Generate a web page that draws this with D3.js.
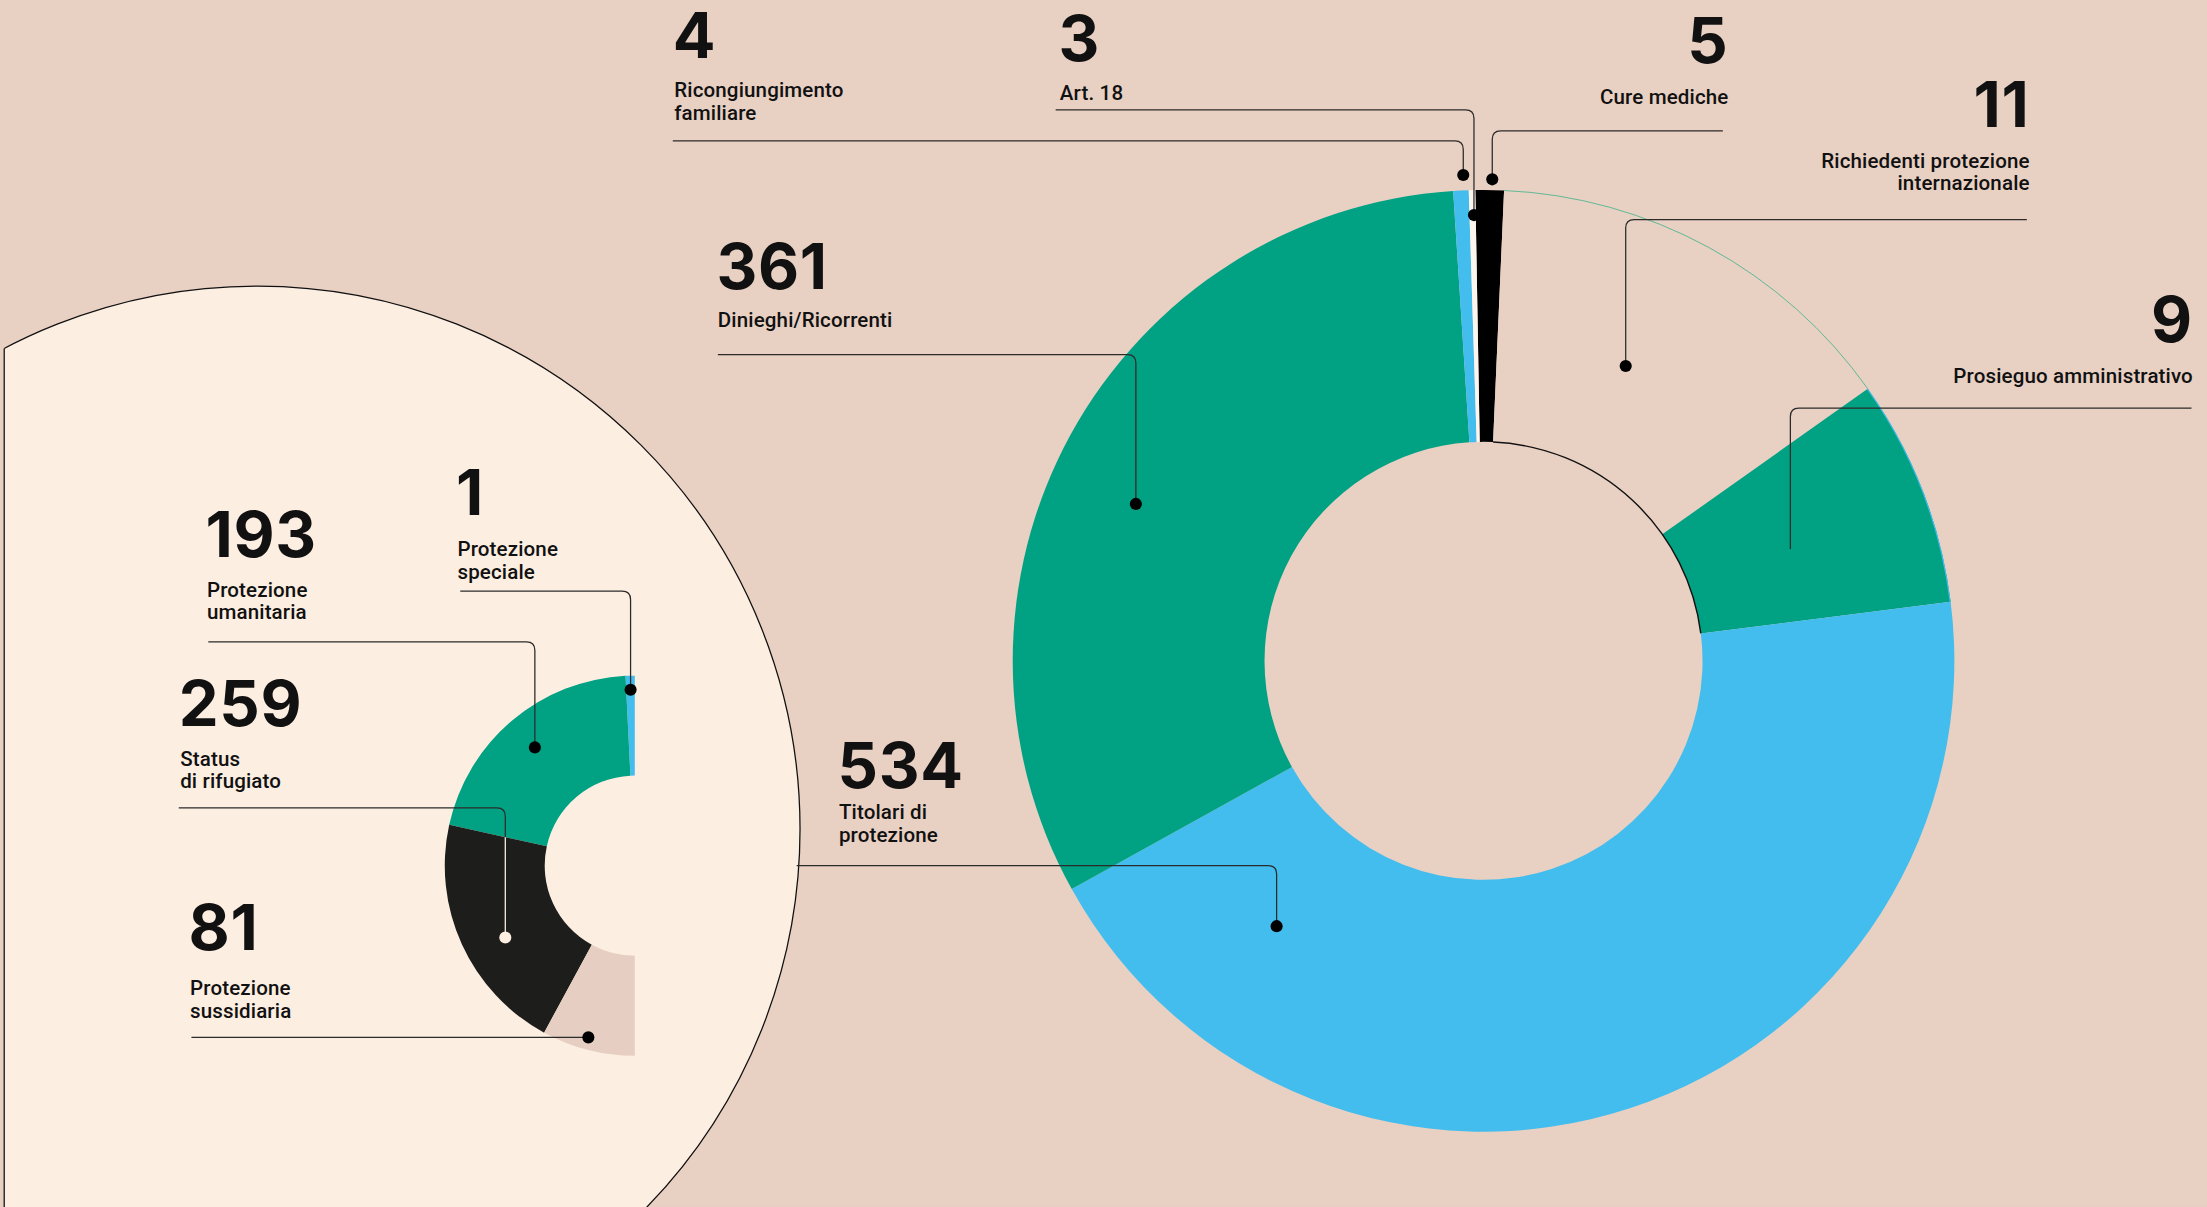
<!DOCTYPE html>
<html>
<head>
<meta charset="utf-8">
<script src="https://cdn.jsdelivr.net/npm/d3@7"></script>
<style>
html, body { margin: 0; padding: 0; background: #e8d0c3; overflow: hidden; }
svg { display: block; }
</style>
</head>
<body>
<div id="chart"></div>
<script>
// main ring: categories, the numbers printed on the chart, and the arc spans (degrees) as drawn
const mainLabels = ["Cure mediche", "Richiedenti protezione\ninternazionale", "Prosieguo amministrativo",
    "Titolari di\nprotezione", "Dinieghi/Ricorrenti", "Ricongiungimento\nfamiliare", "Art. 18"];
const mainValues = [5, 11, 9, 534, 361, 4, 3];
const mainShares = [3.5, 52.2, 28.1, 158.2, 115.3, 1.9, 0.8];
const mainColors = ["#000000", "none", "#00a283", "#42bdee", "#00a283", "#42bdee", "#fdf6ee"];

// detail half ring (Titolari di protezione)
const subLabels = ["Protezione\nspeciale", "Protezione\numanitaria", "Status\ndi rifugiato", "Protezione\nsussidiaria"];
const subValues = [1, 193, 259, 81];
const subShares = [2.8, 74.8, 73.9, 28.5];
const subColors = ["#42bdee", "#00a283", "#1d1d1b", "#e6cfc2"];

const bg = "#e8d0c3", panel = "#fdeee2", ink = "#111111", rule = "#2b2b2b";

const W = 1568, H = 857.5;
const svg = d3.select("#chart").append("svg")
    .attr("width", 2207)
    .attr("height", 1207)
    .attr("viewBox", `0 0 ${W} ${H}`);

svg.append("rect").attr("width", W).attr("height", H).attr("fill", bg);

const deg = d3.scaleLinear().domain([0, 360]).range([0, 2 * Math.PI]);

// big cream panel behind the half ring
const pc = { x: 182.6, y: 589, r: 385.8 }, cutX = 3;
svg.append("circle")
    .attr("cx", pc.x).attr("cy", pc.y).attr("r", pc.r)
    .attr("fill", panel).attr("stroke", "#111").attr("stroke-width", 0.9);
svg.append("rect").attr("x", -20).attr("y", 0).attr("width", cutX + 20).attr("height", H).attr("fill", bg);
svg.append("line")
    .attr("x1", cutX).attr("x2", cutX)
    .attr("y1", pc.y - Math.sqrt(pc.r * pc.r - (cutX - pc.x) ** 2)).attr("y2", H)
    .attr("stroke", "#111").attr("stroke-width", 0.9);

// main donut
const main = { x: 1054, y: 469.5, r0: 155.6, r1: 334.5 };
const mainData = mainLabels.map((d, i) => ({ label: d, value: mainValues[i], share: mainShares[i], color: mainColors[i] }));
const mainPie = d3.pie().sort(null).value(d => d.share).startAngle(deg(-1)).endAngle(deg(359));
const mainArc = d3.arc().innerRadius(main.r0).outerRadius(main.r1);
const mainArcs = mainPie(mainData);

const gMain = svg.append("g").attr("transform", `translate(${main.x},${main.y})`);
gMain.selectAll("path.slice")
    .data(mainArcs)
    .join("path")
    .attr("class", "slice")
    .attr("d", mainArc)
    .attr("fill", d => d.data.color === "none" ? bg : d.data.color);

// thin edges around the empty slice
function ring(r, a0, a1) {
    const p = d3.path();
    p.arc(0, 0, r, a0 - Math.PI / 2, a1 - Math.PI / 2);
    return p.toString();
}
const empty = mainArcs[1], prosieguo = mainArcs[2];
gMain.append("path").attr("d", ring(main.r1, empty.startAngle, empty.endAngle))
    .attr("fill", "none").attr("stroke", "#5fb894").attr("stroke-width", 0.7);
gMain.append("path").attr("d", ring(main.r1 - 0.3, prosieguo.startAngle, prosieguo.endAngle))
    .attr("fill", "none").attr("stroke", "#42bdee").attr("stroke-width", 0.8);
gMain.append("path").attr("d", ring(main.r0, empty.startAngle, prosieguo.endAngle))
    .attr("fill", "none").attr("stroke", "#111").attr("stroke-width", 1);

// half ring
const sub = { x: 451, y: 615, r0: 64, r1: 135 };
const subData = subLabels.map((d, i) => ({ label: d, value: subValues[i], share: subShares[i], color: subColors[i] }));
const subPie = d3.pie().sort(null).value(d => d.share).startAngle(0).endAngle(deg(-180));
const subArc = d3.arc().innerRadius(sub.r0).outerRadius(sub.r1);
const subArcs = subPie(subData);

const gSub = svg.append("g").attr("transform", `translate(${sub.x},${sub.y})`);
gSub.selectAll("path.slice")
    .data(subArcs)
    .join("path")
    .attr("class", "slice")
    .attr("d", subArc)
    .attr("fill", d => d.data.color);

svg.append("clipPath").attr("id", "darkSlice")
    .append("path")
    .attr("transform", `translate(${sub.x},${sub.y})`)
    .attr("d", subArc(subArcs[2]));

// label layout: number baseline, label baseline, leader (y, start x, corner x, end y)
const notes = [
    { set: "main", i: 5, x: 478, ny: 41, ty: 69, anchor: "start", ly: 100, lx0: 478, lx1: 1039.6, ey: 124.3, dot: true },
    { set: "main", i: 6, x: 752, ny: 43, ty: 71, anchor: "start", ly: 78, lx0: 750, lx1: 1047.2, ey: 152.8, dot: true },
    { set: "main", i: 0, x: 1228, ny: 45, ty: 74, anchor: "end", ly: 93, lx0: 1224, lx1: 1060.2, ey: 127.4, dot: true },
    { set: "main", i: 1, x: 1442, ny: 90, ty: 119, anchor: "end", ly: 156, lx0: 1440, lx1: 1155, ey: 260, dot: true },
    { set: "main", i: 2, x: 1558, ny: 243, ty: 272, anchor: "end", ly: 290, lx0: 1557, lx1: 1272, ey: 390, dot: false },
    { set: "main", i: 4, x: 509, ny: 205, ty: 232, anchor: "start", ly: 252, lx0: 510, lx1: 807, ey: 358, dot: true },
    { set: "main", i: 3, x: 595, ny: 560, ty: 582, anchor: "start", ly: 615, lx0: 566, lx1: 907, ey: 658, dot: true },
    { set: "sub", i: 1, x: 146, ny: 396, ty: 424, anchor: "start", ly: 456, lx0: 148, lx1: 380, ey: 531, dot: true },
    { set: "sub", i: 0, x: 324, ny: 366, ty: 395, anchor: "start", ly: 420, lx0: 327, lx1: 448, ey: 490, dot: true },
    { set: "sub", i: 2, x: 127, ny: 516, ty: 544, anchor: "start", ly: 574, lx0: 127, lx1: 359, ey: 666, dot: true, light: true },
    { set: "sub", i: 3, x: 134, ny: 675, ty: 707, anchor: "start", ly: 737, lx0: 136, lx1: 418, ey: 737, dot: true }
];

function leader(n) {
    const p = d3.path(), r = 6, s = Math.sign(n.lx1 - n.lx0);
    p.moveTo(n.lx0, n.ly);
    if (n.ey === n.ly) { p.lineTo(n.lx1, n.ly); return p.toString(); }
    p.lineTo(n.lx1 - s * r, n.ly);
    p.quadraticCurveTo(n.lx1, n.ly, n.lx1, n.ly + r);
    p.lineTo(n.lx1, n.ey);
    return p.toString();
}

const gNotes = svg.append("g");
notes.forEach(n => {
    const d = n.set === "main" ? mainData[n.i] : subData[n.i];
    const g = gNotes.append("g");
    g.append("path").attr("d", leader(n))
        .attr("fill", "none").attr("stroke", rule).attr("stroke-width", 0.9);
    if (n.dot) g.append("circle").attr("cx", n.lx1).attr("cy", n.ey).attr("r", 4.3).attr("fill", "#000");
    if (n.light) {
        const lg = g.append("g").attr("clip-path", "url(#darkSlice)");
        lg.append("path").attr("d", leader(n))
            .attr("fill", "none").attr("stroke", panel).attr("stroke-width", 0.9);
        lg.append("circle").attr("cx", n.lx1).attr("cy", n.ey).attr("r", 4.3).attr("fill", panel);
    }
    g.append("text")
        .attr("x", n.x).attr("y", n.ny)
        .attr("text-anchor", n.anchor)
        .attr("font-family", "Inter, 'Noto Sans', sans-serif")
        .attr("font-weight", 700)
        .attr("font-size", 45)
        .attr("letter-spacing", 0.5)
        .attr("fill", ink)
        .text(d.value);
    const lx = n.x + (n.anchor === "start" ? 1 : 0);
    const t = g.append("text")
        .attr("x", lx).attr("y", n.ty)
        .attr("text-anchor", n.anchor)
        .attr("font-family", "Roboto, 'Noto Sans', sans-serif")
        .attr("font-weight", 500)
        .attr("font-size", 14.6)
        .attr("letter-spacing", 0.1)
        .attr("fill", ink);
    d.label.split("\n").forEach((line, k) => {
        t.append("tspan").attr("x", lx).attr("dy", k ? 16 : 0).text(line);
    });
});
</script>
</body>
</html>
